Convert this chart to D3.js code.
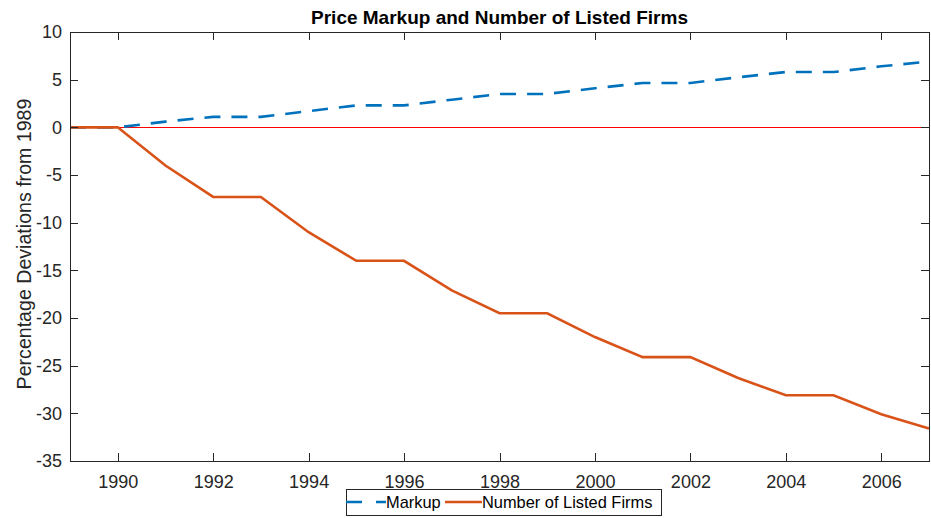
<!DOCTYPE html>
<html lang="en">
<head>
<meta charset="utf-8">
<title>Price Markup and Number of Listed Firms</title>
<script src="https://d3js.org/d3.v7.min.js"></script>
<style>
body { margin: 0; background: #fff; }
svg text { font-family: "Liberation Sans", Arial, sans-serif; fill: #262626; }
.axis path, .axis line { stroke: #262626; shape-rendering: crispEdges; }
.axis text { font-size: 18px; }
</style>
</head>
<body>
<svg width="931" height="518"></svg>
<script>
// data
var years = [1989, 1990, 1991, 1992, 1993, 1994, 1995, 1996, 1997, 1998,
             1999, 2000, 2001, 2002, 2003, 2004, 2005, 2006, 2007];
var markup = [0, 0, 0.6, 1.1, 1.1, 1.7, 2.3, 2.3, 2.9, 3.5,
              3.5, 4.1, 4.65, 4.65, 5.25, 5.8, 5.8, 6.4, 6.9];
var firms = [0, 0, -4.0, -7.3, -7.3, -11.0, -14.0, -14.0, -17.1, -19.5,
             -19.5, -22.0, -24.1, -24.1, -26.3, -28.1, -28.1, -30.1, -31.6];
var xTicks = [1990, 1992, 1994, 1996, 1998, 2000, 2002, 2004, 2006];
var yTicks = [10, 5, 0, -5, -10, -15, -20, -25, -30, -35];

var svg = d3.select("svg"),
    mLeft = 70, mRight = 929, mTop = 32, mBottom = 461;

var x = d3.scaleLinear().domain([1989, 2007]).range([mLeft, mRight]);
var y = d3.scaleLinear().domain([-35, 10]).range([mBottom, mTop]);

// zero line
svg.append("line")
   .attr("x1", mLeft).attr("x2", mRight)
   .attr("y1", y(0)).attr("y2", y(0))
   .attr("stroke", "#ff0000").attr("stroke-width", 1)
   .attr("shape-rendering", "crispEdges");

var line = d3.line()
    .x(function(d, i) { return x(years[i]); })
    .y(function(d) { return y(d); });

svg.append("path")
   .datum(markup)
   .attr("d", line)
   .attr("fill", "none")
   .attr("stroke", "#0072BD")
   .attr("stroke-width", 2.6)
   .attr("stroke-dasharray", "16,11");

svg.append("path")
   .datum(firms)
   .attr("d", line)
   .attr("fill", "none")
   .attr("stroke", "#D95319")
   .attr("stroke-width", 2.6);

// axes (box with inward ticks)
svg.append("g").attr("class", "axis")
   .attr("transform", "translate(0," + mBottom + ")")
   .call(d3.axisBottom(x).tickValues(xTicks).tickFormat(function(d) { return String(d); })
         .tickSizeInner(-8).tickSizeOuter(0).tickPadding(14));

svg.append("g").attr("class", "axis")
   .attr("transform", "translate(0," + mTop + ")")
   .call(d3.axisTop(x).tickValues(xTicks).tickFormat("")
         .tickSizeInner(-8).tickSizeOuter(0));

svg.append("g").attr("class", "axis")
   .attr("transform", "translate(" + mLeft + ",0)")
   .call(d3.axisLeft(y).tickValues(yTicks).tickFormat(function(d) { return String(d); })
         .tickSizeInner(-8).tickSizeOuter(0).tickPadding(8));

svg.append("g").attr("class", "axis")
   .attr("transform", "translate(" + mRight + ",0)")
   .call(d3.axisRight(y).tickValues(yTicks).tickFormat("")
         .tickSizeInner(-8).tickSizeOuter(0));

svg.selectAll(".axis path").attr("stroke-width", 1);

// title and label
svg.append("text")
   .attr("x", (mLeft + mRight) / 2).attr("y", 24)
   .attr("text-anchor", "middle")
   .attr("font-size", "19px").attr("font-weight", "bold")
   .style("fill", "#000")
   .text("Price Markup and Number of Listed Firms");

svg.append("text")
   .attr("transform", "translate(31,244) rotate(-90)")
   .attr("text-anchor", "middle")
   .attr("font-size", "19.6px")
   .text("Percentage Deviations from 1989");

// legend
var lg = svg.append("g").attr("transform", "translate(346,489)");
lg.append("rect")
  .attr("width", 315).attr("height", 26)
  .attr("fill", "#fff").attr("stroke", "#262626").attr("stroke-width", 1)
  .attr("shape-rendering", "crispEdges");
lg.append("line")
  .attr("x1", 0).attr("x2", 40).attr("y1", 13).attr("y2", 13)
  .attr("stroke", "#0072BD").attr("stroke-width", 2.6)
  .attr("stroke-dasharray", "16,14");
lg.append("text").attr("x", 40).attr("y", 19)
  .attr("font-size", "16.4px").style("fill", "#000").text("Markup");
lg.append("line")
  .attr("x1", 99).attr("x2", 136).attr("y1", 13).attr("y2", 13)
  .attr("stroke", "#D95319").attr("stroke-width", 2.6);
lg.append("text").attr("x", 136).attr("y", 19)
  .attr("font-size", "16.4px").style("fill", "#000").text("Number of Listed Firms");
</script>
</body>
</html>
